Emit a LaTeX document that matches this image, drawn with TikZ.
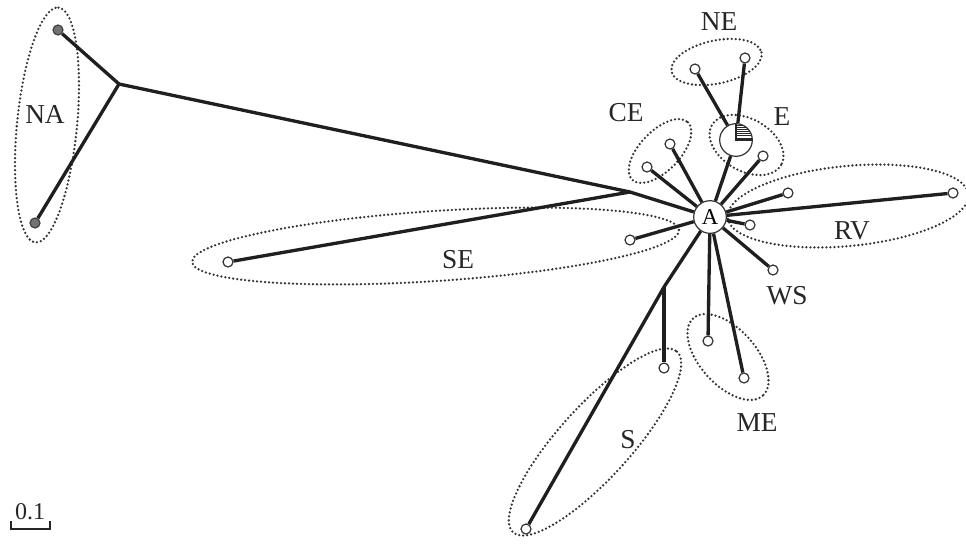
\documentclass[tikz,border=0pt]{standalone}
\usepackage{fontspec}
\setmainfont{Liberation Serif}
\begin{document}
\begin{tikzpicture}[x=0.75pt,y=-0.75pt,
  edge/.style={line width=2.5pt, draw=black!88, line join=round},
  leaf/.style={circle, draw=black!80, line width=0.9pt, fill=white, minimum size=7.5pt, inner sep=0pt},
  naleaf/.style={circle, draw=black!75, line width=0.9pt, fill=black!55, minimum size=7.5pt, inner sep=0pt},
  bigc/.style={circle, draw=black!80, line width=0.9pt, fill=white, minimum size=24.5pt, inner sep=0pt},
  grp/.style={draw=black!80, line width=1.9pt, dash pattern=on 0pt off 3pt, line cap=round},
  lab/.style={font=\fontsize{20.5}{22}\selectfont, inner sep=0pt, text=black!85}]
\useasboundingbox (0,0) rectangle (966,544);

% group ellipses
\draw[grp, rotate around={84.4:(47,125)}] (47,125) ellipse [x radius=118, y radius=30];
\draw[grp, rotate around={12:(716.5,62)}] (716.5,62) ellipse [x radius=46, y radius=21.5];
\draw[grp, rotate around={46:(660,151)}] (660,151) ellipse [x radius=40, y radius=20];
\draw[grp, rotate around={-30:(746.5,145)}] (746.5,145) ellipse [x radius=40, y radius=26];
\draw[grp, rotate around={5.5:(848,206)}] (848,206) ellipse [x radius=121, y radius=40];
\draw[grp, rotate around={3.76:(435.5,246)}] (435.5,246) ellipse [x radius=244, y radius=35];
\draw[grp, rotate around={47.8:(595,442)}] (595,442) ellipse [x radius=122, y radius=36];
\draw[grp, rotate around={-48:(728,357)}] (728,357) ellipse [x radius=52, y radius=28];

% tree nodes
\node[naleaf] (na1) at (58,30) {};
\node[naleaf] (na2) at (35,223) {};
\coordinate (naj) at (119,84);
\coordinate (j1) at (630,192);
\node[leaf] (se1) at (228,262) {};
\node[leaf] (se2) at (630,240) {};
\node[bigc, font=\fontsize{17}{18}\selectfont] (A) at (710,217) {A};
\node[leaf] (ce1) at (647,167) {};
\node[leaf] (ce2) at (670,144) {};
\node[bigc] (E) at (736,140) {};
\node[leaf] (ne1) at (695,69) {};
\node[leaf] (ne2) at (745,58) {};
\node[leaf] (e1) at (763,156) {};
\node[leaf] (rv1) at (788,193) {};
\node[leaf] (rv2) at (953,193) {};
\node[leaf] (x1) at (750,225) {};
\node[leaf] (ws) at (773,270) {};
\node[leaf] (me1) at (708,341) {};
\node[leaf] (me2) at (744,378) {};
\coordinate (sj) at (664,287);
\node[leaf] (s1) at (664,368) {};
\node[leaf] (s2) at (526,529) {};

% pie in E
\begin{scope}
\clip (736,140) -- (752,140) arc[start angle=0,end angle=-90,radius=16] -- cycle;
\foreach \k in {0,...,8} \draw[line width=0.55pt, black!85] (730,{140-2.1*\k}) -- (756,{140-2.1*\k});
\end{scope}
\draw[line width=0.8pt, black!85] (736,124) -- (736,140) -- (752,140);

% edges
\draw[edge] (na1) -- (naj) -- (na2);
\draw[edge] (naj) -- (j1) -- (A);
\draw[edge] (se1) -- (j1);
\draw[edge] (A) -- (se2);
\draw[edge] (A) -- (ce1);
\draw[edge] (A) -- (ce2);
\draw[edge] (A) -- (E);
\draw[edge] (E) -- (ne1);
\draw[edge] (E) -- (ne2);
\draw[edge] (A) -- (e1);
\draw[edge] (A) -- (rv1);
\draw[edge] (A) -- (rv2);
\draw[edge] (A) -- (x1);
\draw[edge] (A) -- (ws);
\draw[edge] (A) -- (me1);
\draw[edge] (A) -- (me2);
\draw[edge] (A) -- (sj) -- (s2);
\draw[edge] (sj) -- (s1);

% labels
\node[lab] (lNA) at (45,114) {NA};
\node[lab] (lNE) at (719,22) {NE};
\node[lab] (lCE) at (626,113) {CE};
\node[lab] (lE) at (782,117) {E};
\node[lab] (lRV) at (852,231) {RV};
\node[lab] (lSE) at (458,260) {SE};
\node[lab] (lWS) at (787,296) {WS};
\node[lab] (lME) at (757,423) {ME};
\node[lab] (lS) at (628,440) {S};

% scale bar
\draw[line width=0.8pt, black!85] (11,521) -- (11,529) -- (50,529) -- (50,521);
\node[font=\fontsize{18}{20}\selectfont, inner sep=0pt, text=black!85] (scl) at (30,512) {0.1};
\end{tikzpicture}
\end{document}
